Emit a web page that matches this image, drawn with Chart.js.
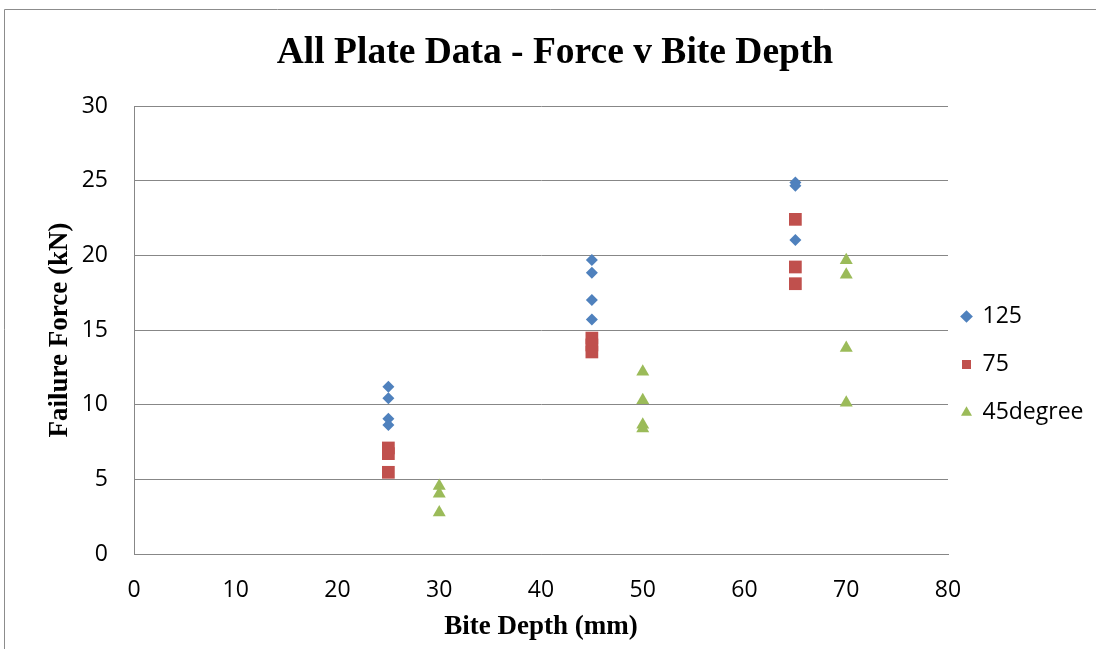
<!DOCTYPE html>
<html>
<head>
<meta charset="utf-8">
<script src="https://cdn.jsdelivr.net/npm/chart.js@4/dist/chart.umd.min.js"></script>
<style>
  html, body { margin: 0; padding: 0; background: #fff; }
  #wrap { width: 1096px; height: 649px; position: relative; }
</style>
</head>
<body>
<div id="wrap"><canvas id="myChart" width="1096" height="649"></canvas></div>
<script>
// values
const seriesNames = ["125", "75", "45degree"];
const x125 = [25, 25, 25, 25, 45, 45, 45, 45, 65, 65, 65];
const y125 = [11.2, 10.43, 9.05, 8.64, 19.69, 18.84, 17.01, 15.71, 24.87, 24.66, 21.03];
const x75 = [25, 25, 25, 45, 45, 45, 65, 65, 65];
const y75 = [7.1, 6.72, 5.47, 14.46, 14.0, 13.53, 22.41, 19.22, 18.1];
const x45 = [30, 30, 30, 50, 50, 50, 50, 70, 70, 70, 70];
const y45 = [4.56, 4.03, 2.78, 12.2, 10.3, 8.65, 8.4, 19.67, 18.7, 13.8, 10.12];
const xTicks = [0, 10, 20, 30, 40, 50, 60, 70, 80];
const yTicks = [0, 5, 10, 15, 20, 25, 30];

const colors = ["#4F81BD", "#C0504D", "#9BBB59"];
const shapes = ["rectRot", "rect", "triangle"];
const radii = [6, 9, 7.5];
const gridColor = "#878787";
const tickFont = { family: "Open Sans", size: 23 };
const serifBold = (size) => ({ family: "Liberation Serif", size: size, weight: "bold" });

function pts(xs, ys) {
  return xs.map((x, i) => ({ x: x, y: ys[i] }));
}

// thin grey chart-frame on the left and top
const frame = {
  id: "frame",
  afterInit(chart) {
    // fixed legend column width so the plot ends at x = 80 where the picture has it
    const lg = chart.legend;
    if (lg) {
      const fit = lg.fit.bind(lg);
      lg.fit = () => { fit(); lg.width = 148; };
    }
  },
  beforeDraw(chart) {
    const c = chart.ctx;
    c.save();
    c.strokeStyle = "#8c8c8c";
    c.lineWidth = 1;
    c.beginPath();
    c.moveTo(4.5, chart.height);
    c.lineTo(4.5, 9.5);
    c.lineTo(chart.width, 9.5);
    c.stroke();
    c.restore();
  }
};

var ctx = document.getElementById("myChart");

new Chart(ctx, {
  type: "scatter",
  data: {
    datasets: [
      [x125, y125], [x75, y75], [x45, y45]
    ].map((s, i) => ({
      label: seriesNames[i],
      data: pts(s[0], s[1]),
      pointStyle: shapes[i],
      pointRadius: radii[i],
      pointHoverRadius: radii[i],
      backgroundColor: colors[i],
      borderColor: colors[i],
      borderWidth: 0,
    })),
  },
  options: {
    responsive: false,
    animation: false,
    layout: { padding: { top: 10, left: 14, right: 0, bottom: 4 } },
    scales: {
      x: {
        type: "linear",
        min: 0,
        max: 80,
        afterBuildTicks: (s) => { s.ticks = xTicks.map((v) => ({ value: v })); },
        afterFit: (s) => { s.height = 91; },
        grid: { display: false, drawTicks: false },
        border: { display: true, color: gridColor },
        ticks: { padding: 23, color: "#000", font: tickFont, maxRotation: 0 },
        title: {
          display: true,
          text: "Bite Depth (mm)",
          color: "#000",
          font: serifBold(27),
          padding: { top: 0, bottom: 2 },
        },
      },
      y: {
        min: 0,
        max: 30,
        afterBuildTicks: (s) => { s.ticks = yTicks.map((v) => ({ value: v })); },
        afterFit: (s) => { s.width = 120; },
        grid: { color: gridColor, drawTicks: false },
        border: { display: true, color: gridColor },
        ticks: { padding: 26, color: "#000", font: tickFont },
        title: {
          display: true,
          text: "Failure Force (kN)",
          color: "#000",
          font: serifBold(27),
          padding: { top: 30, bottom: 0 },
        },
      },
    },
    plugins: {
      title: {
        display: true,
        text: "All Plate Data - Force v Bite Depth",
        color: "#000",
        font: serifBold(37.5),
        padding: { top: 21, bottom: 30 },
      },
      legend: {
        position: "right",
        fullSize: false,
        title: { display: true, text: "", font: { size: 10, lineHeight: "10px" }, padding: { top: 70, bottom: 0 } },
        labels: {
          usePointStyle: true,
          boxWidth: 9,
          boxHeight: 9,
          padding: 14,
          color: "#000",
          font: { family: "Open Sans", size: 23, lineHeight: "34px" },
          generateLabels: (chart) =>
            Chart.defaults.plugins.legend.labels.generateLabels(chart).map((it) => Object.assign(it, { text: [it.text] })),
        },
      },
      tooltip: { enabled: false },
    },
  },
  plugins: [frame],
});
</script>
</body>
</html>
